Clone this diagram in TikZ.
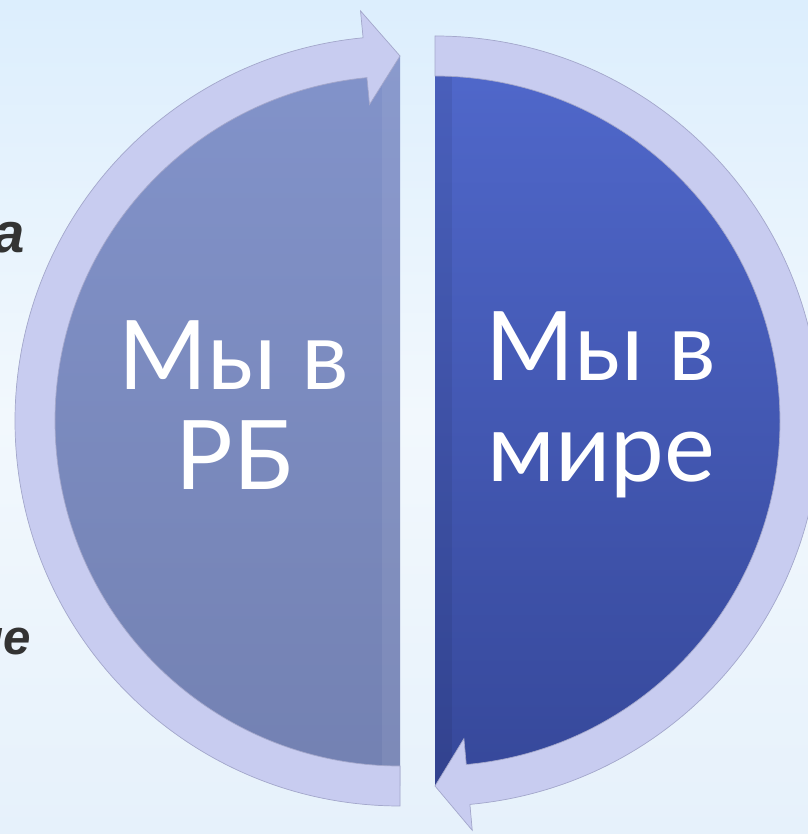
\documentclass[tikz,border=0pt]{standalone}
\usepackage{fontspec}
\setmainfont{Lato}
\newfontfamily\sidefont{Liberation Sans}
\usetikzlibrary{positioning}
\definecolor{ringfill}{HTML}{C8CCF0}
\definecolor{ringline}{HTML}{A4A8CC}
\definecolor{rbtop}{HTML}{8293CA}
\definecolor{rbbottom}{HTML}{7381B2}
\definecolor{worldtop}{HTML}{5068CB}
\definecolor{worldbottom}{HTML}{36489A}
\definecolor{bgtop}{HTML}{DCEEFD}
\definecolor{bgmid}{HTML}{F2F8FD}
\definecolor{bgbottom}{HTML}{E6F1FB}
\definecolor{sidegray}{HTML}{333333}
\tikzset{
    ring/.style={fill=ringfill, draw=ringline, line width=0.6pt},
    ringshadow/.style={fill=black, opacity=0.12},
    halfrb/.style={top color=rbtop, bottom color=rbbottom},
    halfworld/.style={top color=worldtop, bottom color=worldbottom},
    bevel/.style={opacity=0.07},
    title/.style={text=white, font=\fontsize{82}{86}\selectfont, align=center, inner sep=0pt},
    sidetext/.style={text=sidegray, font=\sidefont\bfseries\itshape\fontsize{48}{58}\selectfont, inner sep=0pt}
}

\begin{document}
\begin{tikzpicture}[x=0.03cm, y=0.03cm]

% Background
\useasboundingbox (0,0) rectangle (808,834);
\shade[top color=bgtop, bottom color=bgbottom, middle color=bgmid] (0,0) rectangle (808,834);
\clip (0,0) rectangle (808,834);

% Centres of the two halves
\coordinate (cl) at (400,413);
\coordinate (cr) at (435,413);

% Cut-off text at the left edge
\node[sidetext, anchor=base east] (sa) at (25,581) {а};
\node[sidetext, anchor=base east, font=\sidefont\bfseries\itshape\fontsize{42}{50}\selectfont] (se) at (31,179) {ие};

% Half discs
\shade[halfrb] ([shift={(90:365)}]cl) arc[start angle=90, end angle=270, radius=365] -- cycle;
\shade[halfworld] ([shift={(90:365)}]cr) arc[start angle=90, end angle=-90, radius=365] -- cycle;

% Bevel strips along the flat edges
\fill[bevel, white] (382,48) rectangle (400,778);
\fill[bevel, black] (435,48) rectangle (452,778);

% Shadows of the rings
\fill[ringshadow, shift={(3,-5)}] ([shift={(270:385)}]cl) arc[start angle=270, end angle=95.5, radius=385]
    -- ([shift={(95.5:412)}]cl) -- ([shift={(90:365)}]cl) -- ([shift={(95.5:318)}]cl)
    -- ([shift={(95.5:345)}]cl) arc[start angle=95.5, end angle=270, radius=345] -- cycle;
\fill[ringshadow, shift={(3,-5)}] ([shift={(90:385)}]cr) arc[start angle=90, end angle=-84.8, radius=385]
    -- ([shift={(-84.8:411)}]cr) -- ([shift={(-90:365)}]cr) -- ([shift={(-84.8:319)}]cr)
    -- ([shift={(-84.8:345)}]cr) arc[start angle=-84.8, end angle=90, radius=345] -- cycle;

% Circular arrows
\filldraw[ring] ([shift={(270:385)}]cl) arc[start angle=270, end angle=95.5, radius=385]
    -- ([shift={(95.5:412)}]cl) -- ([shift={(90:365)}]cl) -- ([shift={(95.5:318)}]cl)
    -- ([shift={(95.5:345)}]cl) arc[start angle=95.5, end angle=270, radius=345] -- cycle;
\filldraw[ring] ([shift={(90:385)}]cr) arc[start angle=90, end angle=-84.8, radius=385]
    -- ([shift={(-84.8:411)}]cr) -- ([shift={(-90:365)}]cr) -- ([shift={(-84.8:319)}]cr)
    -- ([shift={(-84.8:345)}]cr) arc[start angle=-84.8, end angle=90, radius=345] -- cycle;

% Labels
\node[title] (rb) at (234,429) {Мы в\\РБ};
\node[title] (world) at (601,429) {Мы в\\мире};

\end{tikzpicture}
\end{document}
